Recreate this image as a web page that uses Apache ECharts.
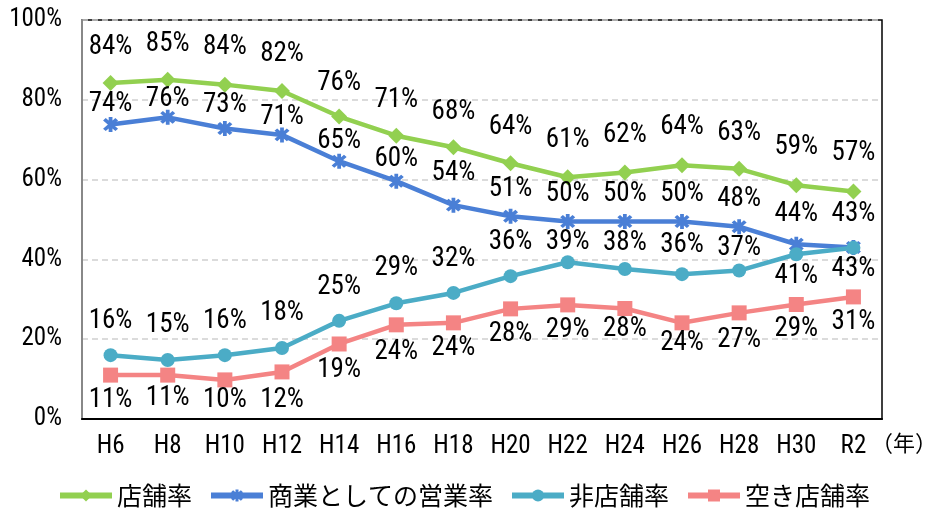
<!DOCTYPE html>
<html><head><meta charset="utf-8">
<script src="https://cdn.jsdelivr.net/npm/echarts@6/dist/echarts.min.js"></script>
<style>html,body{margin:0;padding:0;background:#fff}#c{width:927px;height:516px}</style>
</head><body><div id="c"></div>
<script>
const categories = ['H6','H8','H10','H12','H14','H16','H18','H20','H22','H24','H26','H28','H30','R2'];
const seriesNames = ['店舗率','商業としての営業率','非店舗率','空き店舗率'];
const storeRate = [84.2, 85.0, 83.8, 82.2, 75.8, 71.0, 68.1, 64.1, 60.6, 61.8, 63.6, 62.7, 58.6, 57.0];
const businessRate = [73.8, 75.6, 72.8, 71.2, 64.6, 59.6, 53.6, 50.8, 49.5, 49.5, 49.5, 48.2, 43.8, 43.0];
const nonStoreRate = [16.0, 14.8, 16.0, 17.8, 24.6, 29.0, 31.6, 35.8, 39.3, 37.6, 36.3, 37.2, 41.3, 42.9];
const vacantRate = [11.0, 11.0, 9.8, 11.8, 18.8, 23.6, 24.1, 27.6, 28.6, 27.7, 24.1, 26.6, 28.7, 30.6];
const yTicks = [0, 20, 40, 60, 80, 100];

// label placement (style only, not data)
const storeDist = [14,14,16,15,12,14,14,14,15,16,16,14,16,17];
const bizDist = [-0.5,-3,2,-3.5,-1,1,10.5,6,6,6.5,6.5,6.5,8.5,12.5];
const nonDist = [13.5,14.5,13.5,14.5,13.5,14.5,13.5,13.5,-1,5.5,8.5,1.5,1.5,0.5];
const nonPos = ['top','top','top','top','top','top','top','top','top','top','top','top','bottom','bottom'];
const vacDist = [4.5,2.5,-0.5,7.5,5.5,6.5,4.5,4.5,4.5,-0.5,-0.5,6.5,3.5,4.5];

const numFont = '"Liberation Sans Narrow","Roboto Condensed","DejaVu Sans Condensed","Liberation Sans",sans-serif';
const asterisk = 'path://M-1.3,-6L1.3,-6L1.3,6L-1.3,6Z M3.324,5.162L-5.162,-3.324L-3.324,-5.162L5.162,3.324Z M5.162,-3.324L-3.324,5.162L-5.162,3.324L3.324,-5.162Z';

function mk(name, vals, color, symbol, size, dists, posArr, defPos) {
  return {
    name, type: 'line', symbol, symbolSize: size,
    lineStyle: {color, width: 4.5},
    itemStyle: {color},
    data: vals.map((v, i) => ({
      value: v,
      label: {position: posArr ? posArr[i] : defPos, distance: dists[i]}
    })),
    label: {
      show: true, color: '#000', fontSize: 27, fontFamily: numFont,
      formatter: p => Math.round(p.value) + '%'
    },
    z: 3
  };
}

const chart = echarts.init(document.getElementById('c'), null, {renderer: 'canvas'});
chart.setOption({
  animation: false,
  grid: {left: 82, right: 45, top: 20, bottom: 97, show: true, borderColor: '#000', borderWidth: 1.5, containLabel: false},
  xAxis: {
    type: 'category', data: categories, boundaryGap: true,
    axisLine: {show: true, lineStyle: {color: '#000', width: 2}},
    axisTick: {show: false},
    axisLabel: {color: '#000', fontSize: 25, fontFamily: numFont, margin: 15}
  },
  yAxis: {
    type: 'value', min: yTicks[0], max: yTicks[yTicks.length-1], interval: 20,
    axisLine: {show: true, lineStyle: {color: '#888', width: 2}},
    axisTick: {show: false},
    splitLine: {show: true, lineStyle: {color: '#d0d0d0', type: [6, 4], width: 1.5}},
    axisLabel: {color: '#000', fontSize: 25, fontFamily: numFont, margin: 20, formatter: v => v + '%'}
  },
  legend: {
    data: seriesNames, bottom: 3, left: 'center',
    itemWidth: 52, itemHeight: 15, itemGap: 16,
    lineStyle: {width: 6},
    textStyle: {color: '#000', fontSize: 25, fontFamily: '"Noto Sans CJK JP",sans-serif'}
  },
  graphic: [{type: 'text', left: 871, top: 432, style: {text: '（年）', fontSize: 22, fill: '#000', fontFamily: '"Noto Sans CJK JP",sans-serif'}}],
  series: [
    mk(seriesNames[0], storeRate, '#92D050', 'diamond', 16, storeDist, null, 'top'),
    mk(seriesNames[1], businessRate, '#4A7FD6', asterisk, 15, bizDist, null, 'top'),
    mk(seriesNames[2], nonStoreRate, '#4BACC6', 'circle', 14, nonDist, nonPos, 'top'),
    mk(seriesNames[3], vacantRate, '#F48484', 'rect', 15, vacDist, null, 'bottom')
  ]
});
</script></body></html>
